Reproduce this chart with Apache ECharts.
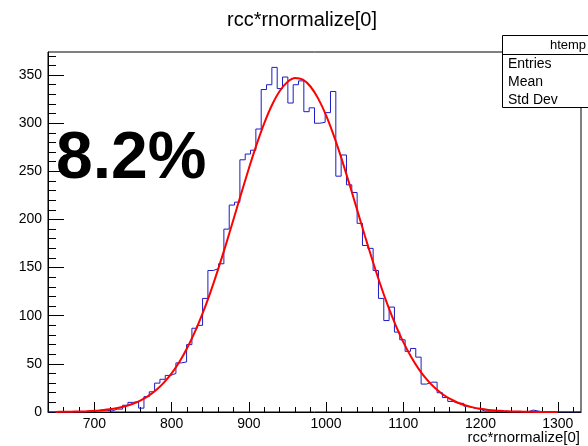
<!DOCTYPE html>
<html>
<head>
<meta charset="utf-8">
<script src="https://cdn.jsdelivr.net/npm/echarts@6/dist/echarts.min.js"></script>
<style>
html,body{margin:0;padding:0;background:#fff;}
#chart{width:588px;height:446px;}
</style>
</head>
<body>
<div id="chart"></div>
<script>
// ---- data ----
var histMin = 640;
var binWidth = 6.9;
var binCounts = [
  0,0,0,0,0,0,0,1,1,2,
  2,1,3,3,7,10,11,4,16,21,
  30,34,38,40,51,52,70,87,90,118,
  147,149,154,190,215,218,262,268,272,294,
  335,340,358,336,348,321,340,344,312,316,
  300,301,311,333,245,267,236,228,196,173,
  170,147,118,95,109,83,75,63,66,57,
  29,31,31,20,15,11,9,9,6,4,
  3,1,1,1,0,1,0,0,0,0,
  2,1,0,0,0,0,0,0,0,0
];
var fitX = [650,660,670,680,690,700,710,720,730,740,750,760,770,780,790,800,810,820,830,840,850,860,870,880,890,900,910,920,930,940,950,960,970,980,990,1000,1010,1020,1030,1040,1050,1060,1070,1080,1090,1100,1110,1120,1130,1140,1150,1160,1170,1180,1190,1200,1210,1220,1230,1240,1250,1260,1270,1280,1290,1300];
var fitY = [0.1,0.2,0.3,0.5,0.8,1.2,1.9,2.8,4.2,6.0,8.6,12.1,16.8,22.8,30.5,40.1,51.9,66.2,82.9,102.1,123.8,147.6,173.1,199.7,226.6,253.0,277.8,300.2,319.0,333.5,342.9,347.0,345.2,337.9,325.3,308.2,287.1,263.2,237.3,210.5,183.6,157.6,133.0,110.5,90.3,72.6,57.4,44.6,34.1,25.7,19.0,13.8,9.9,7.0,4.8,3.3,2.2,1.5,1.0,0.6,0.4,0.2,0.1,0.1,0.1,0.0];
var xRange = [640, 1330];
var yRange = [0, 374];
var xMajorTicks = [700,800,900,1000,1100,1200,1300];
var xMinorTicks = [660,680,720,740,760,780,820,840,860,880,920,940,960,980,1020,1040,1060,1080,1120,1140,1160,1180,1220,1240,1260,1280,1320];
var yMajorTicks = [0,50,100,150,200,250,300,350];
var yMinorTicks = [10,20,30,40,60,70,80,90,110,120,130,140,160,170,180,190,210,220,230,240,260,270,280,290,310,320,330,340,360,370];
var titleText = 'rcc*rnormalize[0]';
var xTitleText = 'rcc*rnormalize[0]';
var bigLabel = '8.2%';
var statsName = 'htemp';
var statsRows = ['Entries', 'Mean', 'Std Dev'];

// ---- build step data ----
var histData = [];
for (var i = 0; i < binCounts.length; i++) {
  histData.push([histMin + i * binWidth, binCounts[i]]);
}
histData.push([histMin + binCounts.length * binWidth, binCounts[binCounts.length - 1]]);
var fitData = fitX.map(function (x, i) { return [x, fitY[i]]; });

var FONT = "'Liberation Sans', Arial, Helvetica, sans-serif";
var chart = echarts.init(document.getElementById('chart'), null, {renderer: 'canvas'});
function plain(v) { return String(v); }

function xAxisCfg(ticks, len, showLabel, showLine) {
  return {
    type: 'value', min: xRange[0], max: xRange[1], position: 'bottom',
    axisLine: {show: showLine, onZero: false, lineStyle: {color: '#000', width: 1}},
    axisTick: {show: true, inside: true, length: len, customValues: ticks, lineStyle: {color: '#000', width: 1}},
    axisLabel: {show: showLabel, customValues: ticks, formatter: plain, color: '#000', fontSize: 14, fontFamily: FONT, margin: 5},
    splitLine: {show: false}
  };
}
function yAxisCfg(ticks, len, showLabel, showLine) {
  return {
    type: 'value', min: yRange[0], max: yRange[1], position: 'left',
    axisLine: {show: showLine, onZero: false, lineStyle: {color: '#000', width: 1}},
    axisTick: {show: true, inside: true, length: len, customValues: ticks, lineStyle: {color: '#000', width: 1}},
    axisLabel: {show: showLabel, customValues: ticks, formatter: plain, color: '#000', fontSize: 14, fontFamily: FONT, margin: 6},
    splitLine: {show: false}
  };
}

var option = {
  backgroundColor: '#fff',
  animation: false,
  grid: {left: 48, right: 7, top: 52, bottom: 34, show: true, borderColor: '#000', borderWidth: 1, backgroundColor: 'transparent'},
  xAxis: [xAxisCfg(xMajorTicks, 10, true, true), xAxisCfg(xMinorTicks, 5, false, false)],
  yAxis: [yAxisCfg(yMajorTicks, 16, true, true), yAxisCfg(yMinorTicks, 8, false, false)],
  series: [
    {
      type: 'line', step: 'end', data: histData, xAxisIndex: 0, yAxisIndex: 0,
      symbol: 'none', lineStyle: {color: '#1c1cc4', width: 1}, z: 2
    },
    {
      type: 'line', data: fitData, xAxisIndex: 0, yAxisIndex: 0, smooth: 0.25,
      symbol: 'none', lineStyle: {color: '#ff0000', width: 2}, z: 3
    }
  ],
  graphic: [
    {type: 'text', x: 302, y: 20, z: 10, style: {text: titleText, fill: '#000', fontSize: 20, fontFamily: FONT, align: 'center', verticalAlign: 'middle'}},
    {type: 'text', x: 580, y: 438, z: 10, style: {text: xTitleText, fill: '#000', fontSize: 15, fontFamily: FONT, align: 'right', verticalAlign: 'middle'}},
    {type: 'text', x: 56, y: 160, z: 10, style: {text: bigLabel, fill: '#000', fontSize: 66, fontWeight: 'bold', fontFamily: FONT, align: 'left', verticalAlign: 'middle'}},
    {type: 'rect', z: 20, shape: {x: 502.5, y: 35.5, width: 130, height: 72}, style: {fill: '#fff', stroke: '#000', lineWidth: 1}},
    {type: 'line', z: 21, shape: {x1: 502.5, y1: 54.5, x2: 640, y2: 54.5}, style: {stroke: '#000', lineWidth: 1}},
    {type: 'text', x: 568, y: 45, z: 22, style: {text: statsName, fill: '#000', fontSize: 13, fontFamily: FONT, align: 'center', verticalAlign: 'middle'}},
    {type: 'text', x: 508, y: 64, z: 22, style: {text: statsRows[0], fill: '#000', fontSize: 14, fontFamily: FONT, align: 'left', verticalAlign: 'middle'}},
    {type: 'text', x: 508, y: 82, z: 22, style: {text: statsRows[1], fill: '#000', fontSize: 14, fontFamily: FONT, align: 'left', verticalAlign: 'middle'}},
    {type: 'text', x: 508, y: 100, z: 22, style: {text: statsRows[2], fill: '#000', fontSize: 14, fontFamily: FONT, align: 'left', verticalAlign: 'middle'}}
  ]
};
chart.setOption(option);
</script>
</body>
</html>
